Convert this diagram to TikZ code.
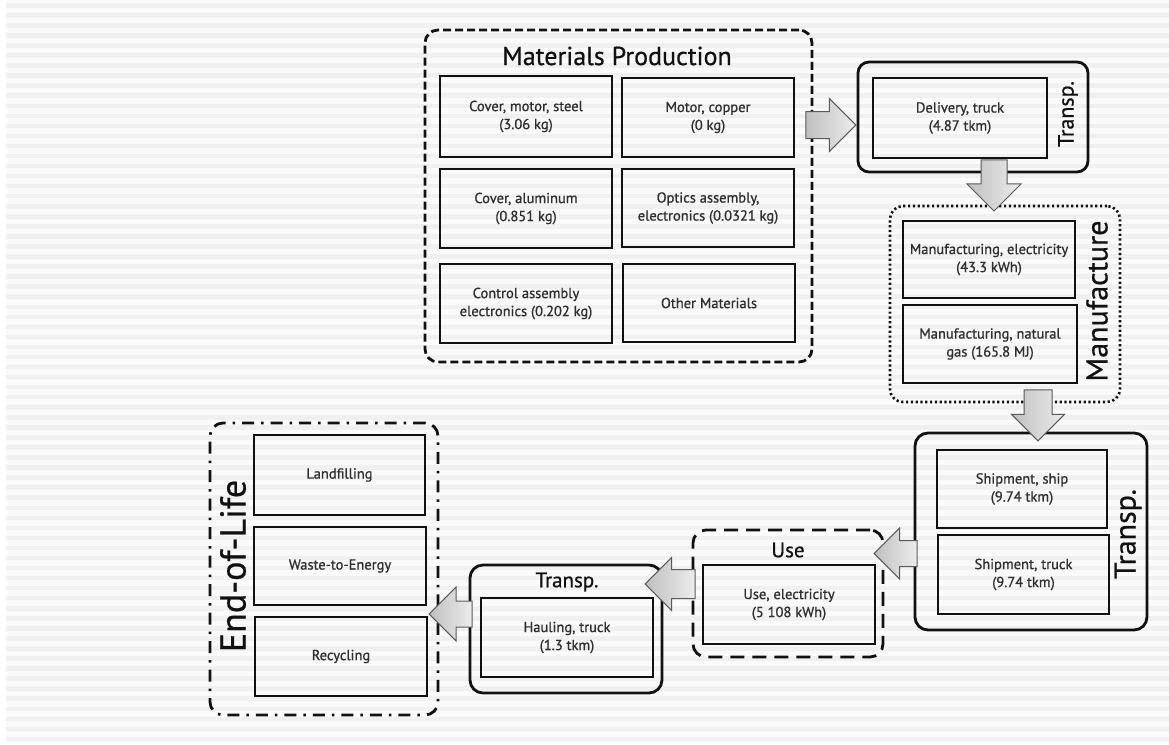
\documentclass[tikz,border=0pt]{standalone}
\usepackage{fontspec}
\setmainfont{PT Sans}
\newfontfamily\boxfont{PT Sans}[FakeBold=0.9]
\newfontfamily\headfont{PT Sans}[FakeBold=0.6]
\usetikzlibrary{shapes.arrows,calc}
\definecolor{ink}{HTML}{111111}
\definecolor{txt}{HTML}{2E2E2E}
\definecolor{stripecol}{HTML}{F0F0F0}
\definecolor{bgcol}{HTML}{FAFAFA}
\tikzset{
  inbox/.style={draw=ink, line width=2.8pt, minimum width=172pt, minimum height=79pt,
    align=center, text=txt, font=\boxfont\fontsize{14.5}{18}\selectfont, inner sep=1pt},
  outbox/.style={draw=ink, line width=2.8pt, rounded corners=13pt, inner sep=0pt},
  matbox/.style={outbox, dash pattern=on 8pt off 4pt},
  manbox/.style={outbox, dash pattern=on 2.2pt off 2.6pt, line width=2.6pt},
  usebox/.style={outbox, dash pattern=on 14pt off 8pt},
  eolbox/.style={outbox, dash pattern=on 12pt off 7pt on 2.5pt off 7pt},
  title/.style={text=ink, inner sep=0pt},
  fatarrow/.style={single arrow, inner xsep=0pt,
    draw=gray!70!black, line width=1pt, left color=gray!50, right color=gray!15,
    anchor=tip},
}
\begin{document}
\begin{tikzpicture}[x=1pt,y=-1pt]
\useasboundingbox (0,0) rectangle (1169,744);
\fill[white] (0,0) rectangle (1169,744);
\fill[bgcol] (6,0) rectangle (1169,742);
\foreach \i in {0,...,73} \fill[stripecol] (6,{\i*10.05+3}) rectangle (1169,{\i*10.05+7.5});

% Materials production
\node[matbox, minimum width=387pt, minimum height=332pt] (mat) at (618.5,196) {};
\node[title, font=\headfont\fontsize{26}{30}\selectfont] (matt) at (617,56) {Materials Production};
\node[inbox, minimum height=81pt] (m1) at (526,116.5) {Cover, motor, steel\\(3.06 kg)};
\node[inbox] (m2) at (708,117.5) {Motor, copper\\(0 kg)};
\node[inbox] (m3) at (526,208.5) {Cover, aluminum\\(0.851 kg)};
\node[inbox, minimum height=78pt] (m4) at (708,208) {Optics assembly,\\electronics (0.0321 kg)};
\node[inbox] (m5) at (526,303.5) {Control assembly\\electronics (0.202 kg)};
\node[inbox, minimum height=78pt] (m6) at (709,303) {Other Materials};

% Transport 1
\node[outbox, minimum width=230pt, minimum height=110pt, rounded corners=11pt] (tr1) at (973,117) {};
\node[inbox, minimum width=174pt, minimum height=80pt] (d1) at (960,118) {Delivery, truck\\(4.87 tkm)};
\node[title, rotate=90, font=\headfont\fontsize{22}{26}\selectfont] (tr1t) at (1068,114) {Transp.};

% Manufacture
\node[manbox, minimum width=230pt, minimum height=196pt] (man) at (1005,304) {};
\node[inbox, minimum height=77pt] (f1) at (989,259.5) {Manufacturing, electricity\\(43.3 kWh)};
\node[inbox, minimum width=174pt, minimum height=78pt] (f2) at (990,344) {Manufacturing, natural\\gas (165.8 MJ)};
\node[title, rotate=90, font=\headfont\fontsize{30}{34}\selectfont] (mant) at (1097,301) {Manufacture};

% Transport 2
\node[outbox, minimum width=232pt, minimum height=197pt] (tr2) at (1031,531.5) {};
\node[inbox, minimum width=170pt, minimum height=78pt] (s1) at (1022,489) {Shipment, ship\\(9.74 tkm)};
\node[inbox, minimum width=171pt] (s2) at (1023.5,574.5) {Shipment, truck\\(9.74 tkm)};
\node[title, rotate=90, font=\headfont\fontsize{30}{34}\selectfont] (tr2t) at (1128,534) {Transp.};

% Use
\node[usebox, minimum width=190pt, minimum height=127pt] (use) at (788,593.5) {};
\node[title, font=\headfont\fontsize{21}{25}\selectfont] (uset) at (788,550) {Use};
\node[inbox] (u1) at (789,604.5) {Use, electricity\\(5 108 kWh)};

% Transport 3
\node[outbox, minimum width=192pt, minimum height=128pt] (tr3) at (566,629) {};
\node[title, font=\headfont\fontsize{21}{25}\selectfont] (tr3t) at (567,582) {Transp.};
\node[inbox] (h1) at (567,637.5) {Hauling, truck\\(1.3 tkm)};

% End of life
\node[eolbox, minimum width=228pt, minimum height=292pt] (eol) at (324,569) {};
\node[inbox, minimum width=171pt, minimum height=80pt] (e1) at (339.5,475) {Landfilling};
\node[inbox, minimum height=78pt] (e2) at (340,566) {Waste-to-Energy};
\node[inbox] (e3) at (341,656.5) {Recycling};
\node[title, rotate=90, font=\headfont\fontsize{36}{40}\selectfont] (eolt) at (233,566) {End-of-Life};

% Arrows
\node[fatarrow, minimum height=50pt, inner ysep=13pt, single arrow head extend=13pt] (a1) at ($(tr1.west)+(0,8)$) {};
\node[fatarrow, rotate=-90, minimum height=51pt, inner ysep=12.5pt, single arrow head extend=14pt] (a2) at ($(man.north)+(-11,7)$) {};
\node[fatarrow, rotate=-90, minimum height=51pt, inner ysep=13.5pt, single arrow head extend=12.5pt] (a3) at ($(tr2.north)+(7,10)$) {};
\node[fatarrow, rotate=180, minimum height=43pt, inner ysep=12.5pt, single arrow head extend=12.5pt] (a4) at ($(use.east)+(-11,-40)$) {};
\node[fatarrow, rotate=180, minimum height=50pt, inner ysep=14pt, single arrow head extend=12pt] (a5) at ($(tr3.east)+(-19,-45)$) {};
\node[fatarrow, rotate=180, minimum height=43pt, inner ysep=12.5pt, single arrow head extend=14pt] (a6) at ($(eol.east)+(-11,45)$) {};
\end{tikzpicture}
\end{document}
